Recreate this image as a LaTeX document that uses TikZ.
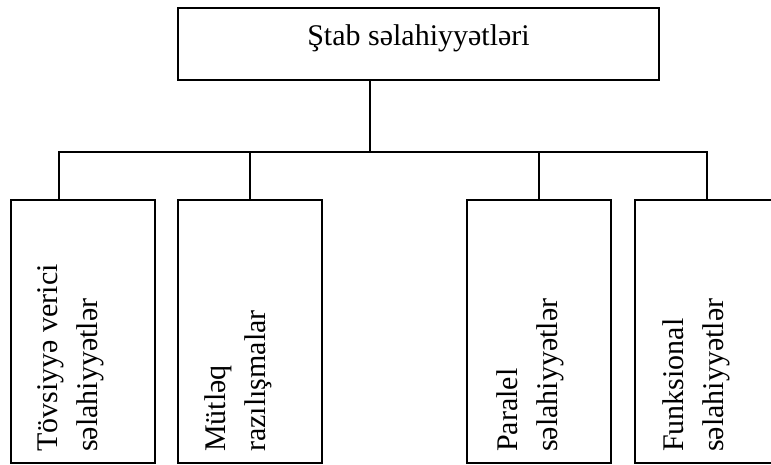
\documentclass[tikz,border=0pt]{standalone}
\usepackage{fontspec}
\setmainfont{Liberation Serif}
\usetikzlibrary{positioning}

\begin{document}
\begin{tikzpicture}[x=1pt,y=-1pt,node distance=23pt,
box/.style={draw,line width=1.6pt,outer sep=0pt,inner sep=0pt,minimum width=144pt,minimum height=263pt},
lbl/.style={rotate=90,anchor=base west,align=left,inner sep=0pt,font=\fontsize{30}{40}\selectfont},
conn/.style={line width=1.6pt}]
\clip (0,0) rectangle (771,464);
\node[draw,line width=1.6pt,outer sep=0pt,inner sep=0pt,minimum width=481pt,text height=37pt,text depth=35pt,anchor=base,font=\fontsize{30}{36}\selectfont](top) at (418.5,45){Ştab səlahiyyətləri};
\node[box](b1) at (83,331.5){};
\node[box,right=of b1](b2){};
\node[box,right=145pt of b2](b3){};
\node[box,right=24pt of b3](b4){};
% rotated texts
\node[lbl](t1) at ([xshift=86pt,yshift=11pt]b1.south west){Tövsiyyə verici\\səlahiyyətlər};
\node[lbl](t2) at ([xshift=87pt,yshift=11pt]b2.south west){Mütləq\\razılışmalar};
\node[lbl](t3) at ([xshift=90pt,yshift=11pt]b3.south west){Paralel\\səlahiyyətlər};
\node[lbl](t4) at ([xshift=88pt,yshift=11pt]b4.south west){Funksional\\səlahiyyətlər};
% connectors
\coordinate (j) at (370,152);
\draw[conn] (j |- top.south) -- (j);
\draw[conn] ([xshift=-24pt]b1.north) |- (b4.north |- j) -- (b4.north);
\draw[conn] (b2.north) -- (b2.north |- j);
\draw[conn] (b3.north) -- (b3.north |- j);
\end{tikzpicture}
\end{document}
